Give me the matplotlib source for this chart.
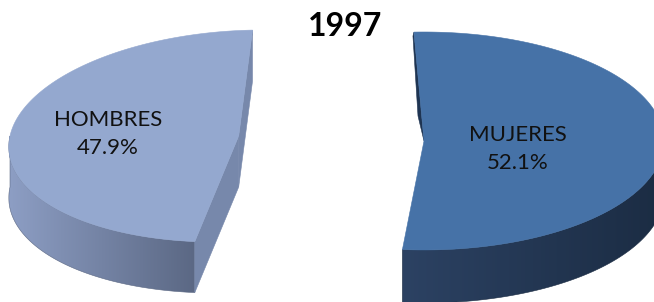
import numpy as np
import matplotlib
matplotlib.use("Agg")
import matplotlib.pyplot as plt
from matplotlib.patches import Polygon
from matplotlib.colors import LinearSegmentedColormap

# ---- data ----
categories = ["MUJERES", "HOMBRES"]
values = [52.1, 47.9]
title = "1997"

# ---- styling / geometry (pixel units) ----
top_colors = ["#4672A7", "#94A8CF"]
cut_colors = ["#1E3452", "#7788AB"]
side_grads = [("#2C4263", "#1B2C43"), ("#8D9EC4", "#5B6884")]
# per-slice ellipse: centre x, centre y, semi-axis a, semi-axis b, shear k, depth d
geom = [
    dict(cx=424.0, cy=141.0, a=240.0, b=109.0, k=0.0, d=53.0),
    dict(cx=238.7, cy=136.0, a=228.7, b=106.0, k=0.221, d=51.0),
]
label_pos = [(518, 149), (108, 134)]
startangle = 92.4

W, H = 654, 302
fig = plt.figure(figsize=(W / 100, H / 100), dpi=100)
ax = fig.add_axes([0, 0, 1, 1])
ax.set_xlim(0, W)
ax.set_ylim(H, 0)
ax.axis("off")

total = float(sum(values))
fracs = [v / total for v in values]
# MUJERES clockwise from startangle, HOMBRES counter-clockwise from startangle
ranges = [
    (startangle - 360 * fracs[0], startangle),
    (startangle, startangle + 360 * fracs[1]),
]


def pt(g, t_deg, down=0.0):
    t = np.radians(t_deg)
    ey = -g["b"] * np.sin(t)
    x = g["cx"] + g["a"] * np.cos(t) - g["k"] * ey
    y = g["cy"] + ey + down
    return np.column_stack([np.atleast_1d(x), np.atleast_1d(y)])


def grad_fill(poly_xy, c0, c1, z):
    patch = Polygon(poly_xy, closed=True, facecolor="none", edgecolor="none")
    ax.add_patch(patch)
    x0, y0 = poly_xy.min(axis=0)
    x1, y1 = poly_xy.max(axis=0)
    cmap = LinearSegmentedColormap.from_list("g", [c0, c1])
    grad = np.linspace(0, 1, 256).reshape(1, -1)
    im = ax.imshow(grad, extent=[x0, x1, y1, y0], cmap=cmap, aspect="auto",
                   interpolation="bilinear", zorder=z)
    im.set_clip_path(patch)
    # thin edge for anti-aliasing
    ax.add_patch(Polygon(poly_xy, closed=True, facecolor="none",
                         edgecolor=c1, lw=0.4, zorder=z))


for i, (g, (t0, t1)) in enumerate(zip(geom, ranges)):
    d = g["d"]
    centre = np.array([[g["cx"], g["cy"]]])
    centre_b = centre + np.array([[0, d]])
    # outer side (front half only)
    s0 = max(t0, 180.0) if i == 1 else t0
    s1 = t1 if i == 1 else min(t1, 0.0)
    ts = np.linspace(s0, s1, 200)
    side = np.vstack([pt(g, ts), pt(g, ts[::-1], d)])
    grad_fill(side, side_grads[i][0], side_grads[i][1], 1)
    # cut faces
    if i == 1:
        for ta in (t0, t1):
            face = np.vstack([centre, pt(g, ta), pt(g, ta, d), centre_b])
            ax.add_patch(Polygon(face, closed=True, facecolor=cut_colors[i],
                                 edgecolor=cut_colors[i], lw=0.4, zorder=2))
    else:
        rim = pt(g, t1)
        sliver = np.vstack([rim, centre, centre + np.array([[-6, -25]]),
                            rim + np.array([[-1, 4]])])
        ax.add_patch(Polygon(sliver, closed=True, facecolor=cut_colors[i],
                             edgecolor=cut_colors[i], lw=0.4, zorder=2))
    # top face
    tt = np.linspace(t0, t1, 300)
    top = np.vstack([centre, pt(g, tt)])
    ax.add_patch(Polygon(top, closed=True, facecolor=top_colors[i],
                         edgecolor=top_colors[i], lw=0.4, zorder=3))
    # label
    lx, ly = label_pos[i]
    ax.text(lx, ly, f"{categories[i]}\n{values[i]:.1f}%", ha="center",
            va="center", fontsize=16, family=["Lato", "DejaVu Sans"],
            linespacing=1.45, color="#111111", zorder=5)

ax.set_xlim(0, W)
ax.set_ylim(H, 0)
ax.text(345, 27, title, ha="center", va="center", fontsize=23,
        fontweight="bold", family=["Lato", "DejaVu Sans"], color="#000000",
        zorder=5)

fig.savefig("out.png", dpi=100)
